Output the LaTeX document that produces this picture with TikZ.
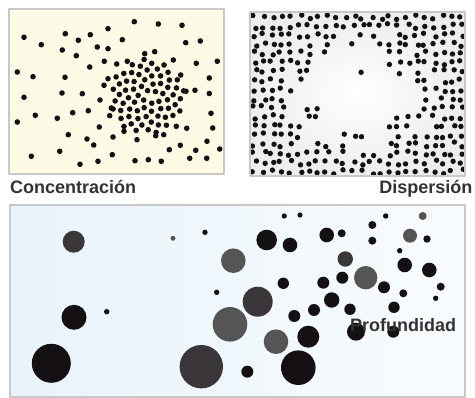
\documentclass[tikz,border=0pt]{standalone}
\usepackage{fontspec}
\setmainfont{Liberation Sans}
\definecolor{crema}{RGB}{253,250,229}
\definecolor{marco}{RGB}{200,200,200}
\definecolor{negro}{RGB}{20,16,20}
\definecolor{gris}{RGB}{85,85,85}
\definecolor{grisosc}{RGB}{58,54,58}
\definecolor{azulclaro}{RGB}{232,243,250}
\definecolor{azulblanco}{RGB}{249,252,254}
\definecolor{texto}{RGB}{51,51,51}
\tikzset{
  marcobox/.style={draw=marco,line width=1.4pt},
  punto/.style={fill=negro},
  rotulo/.style={text=texto,font=\fontsize{18}{21}\selectfont\bfseries,inner sep=0pt}
}
\begin{document}
\begin{tikzpicture}[x=1pt,y=-1pt,line join=round,line cap=round]
\useasboundingbox (0,0) rectangle (475,398);
\def\r{2.8pt} % radio de los puntos
\path
(147,97) coordinate (C)
(357,95) coordinate (D);
% --- concentracion ---
\fill[crema] (9,9) rectangle (224,174);
\foreach \p in {(24,37.3),(65.3,33.7),(90.3,34.7),(108,28.7),(41.3,44.7),(78.3,40.3),
  (62.3,50),(97.3,47),(108,48.7),(76.3,55.7),(104.3,61.3),(89.7,67),(17.3,72),(33,76.7),
  (65,77.3),(108,78.7),(104,85.3),(24,97.3),(62,93),(82.3,93.7),(100,100),(88.3,110.7),
  (72.7,112.7),(35.3,115.3),(57.3,118.3),(111.3,108),(109.7,115.7),(17.3,122),(99.3,127),
  (68.3,134.7),(87,139),(93.7,145),(113,137),(59.7,151.3),(31.3,156.3),(112.3,154.7),
  (98,161.3),(80,164.3),
  (134.3,21.7),(158.3,24),(182,25.3),(122.3,39.7),(185.7,42.7),(200.3,41),(144.7,53.7),
  (154.7,51.7),(173.3,60),(196.3,63.3),(217.3,61.3),(116.7,64),(127.3,61.3),(180.7,75),
  (209.3,78),(209.3,93.5),(195,90.3),(186,91.3),(211,113.3),(212.7,128),(186.7,128.3),
  (176.3,126.3),(163.7,134.7),(155.7,135.7),(137,139.7),(124,131.3),(180.3,145.3),
  (207,141.3),(169.3,149.7),(195.7,150.3),(219.7,149),(135,160.7),(148.3,159.7),
  (161.3,161.3),(189.7,158.3),(206.7,158.3)}
  \fill[punto] \p circle (\r);
% nucleo denso
\foreach \k in {1,...,70}
  \fill[punto,shift={(C)}] ({137.508*\k}:{4.5*sqrt(\k)}) circle (\r);
\draw[marcobox] (9,9) rectangle (224,174);
\node[rotulo,anchor=base west] (conc) at (10,194) {Concentración};
% --- dispersion ---
\shade[inner color=white,outer color=black!7] (250,12) rectangle (465,176);
\pgfmathsetseed{2718}
\begin{scope}
\clip (250,12) rectangle (465,176);
\foreach \i in {0,...,23}{
  \foreach \j in {0,...,17}{
    \pgfmathsetmacro\px{254.5+\i*9+rand*2.4}
    \pgfmathsetmacro\py{17+\j*9.1+rand*2.4}
    \pgfmathsetmacro\dd{sqrt(((\px-357)/104)^2+((\py-95)/80)^2)}
    \pgfmathsetmacro\pr{min(1,max(0.07,(\dd-0.40)/0.5))}
    \pgfmathtruncatemacro\ok{rnd<\pr}
    \ifnum\ok=1 \fill[punto] (\px,\py) circle (2.7pt);\fi
  }}
\end{scope}
\draw[marcobox] (250,12) rectangle (465,176);
\node[rotulo,anchor=base east] (disp) at (472.5,193.5) {Dispersión};
% --- profundidad ---
\shade[left color=azulclaro,right color=azulblanco] (10,205) rectangle (465,397);
\foreach \x/\y/\rr/\c in {73.7/241.7/11/grisosc,74/317.3/12.5/negro,51.3/363.3/19.5/negro,
  106.7/311.7/2.7/negro,173/238.3/2.5/gris,205/232.3/2.7/negro,216.7/292.3/2.7/negro,
  233.3/260.7/12.3/gris,230/324.3/17.3/gris,201.3/366.7/21.7/grisosc,
  284.3/216/2.6/negro,300/215/2.6/negro,266.7/240/10.3/negro,290/245/7.3/negro,
  326.7/235/7.3/negro,341.7/233.3/4/negro,283.3/283.3/5.7/negro,257.7/301.7/15/grisosc,
  276/341.7/12.3/gris,308.3/336.7/11/negro,294.3/316/6/negro,314/310/6/negro,
  331.7/300/7.7/negro,323.3/282.7/6/negro,342.3/277.7/6/negro,345.3/259/7.7/grisosc,
  365.7/277.7/11.7/gris,350/309.3/5.7/negro,356/331.7/9/negro,384/287.3/6/negro,
  394/307.3/5.7/negro,393.3/331.7/6/negro,403.3/293.3/4/negro,372.3/225/4/negro,
  372.3/240.7/4/negro,385.7/216/2.7/negro,399.7/250.7/2.7/negro,404.7/265/7.3/negro,
  410/235.7/7/gris,422.7/216/4/gris,427/239/3.7/negro,429.3/270/7.3/negro,
  440.7/286.7/4/negro,435.7/298.3/2.7/negro,298.3/367.7/17.3/negro,247.3/371.7/6/negro}
  \fill[\c] (\x,\y) circle (\rr pt);
\draw[marcobox] (10,205) rectangle (465,397);
\node[rotulo,anchor=base west] (prof) at (350,331.7) {Profundidad};
\end{tikzpicture}
\end{document}
